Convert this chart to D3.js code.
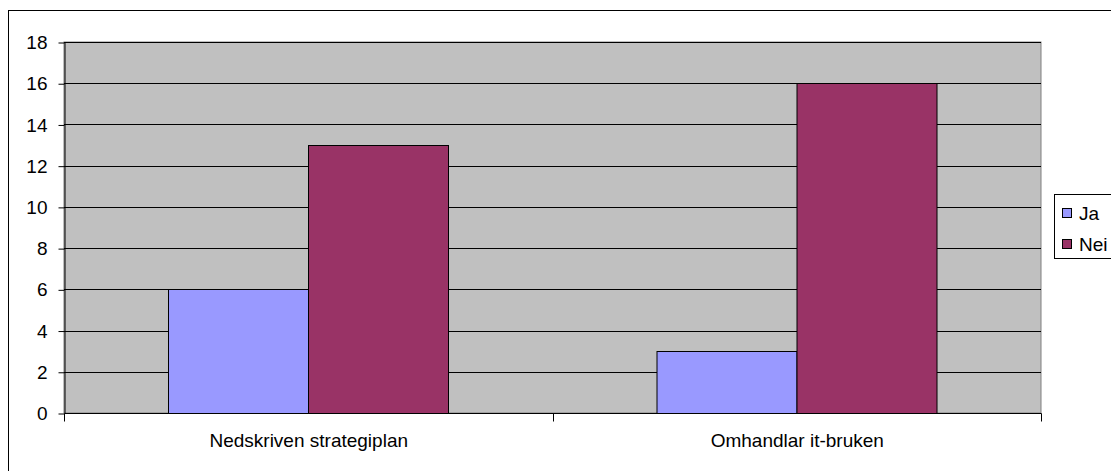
<!DOCTYPE html>
<html>
<head>
<meta charset="utf-8">
<script src="https://cdn.jsdelivr.net/npm/d3@7"></script>
<style>
  html, body { margin: 0; padding: 0; background: #fff; }
  svg { display: block; }
  text { font-family: "Liberation Sans", Arial, sans-serif; fill: #000; }
</style>
</head>
<body>
<svg id="chart" width="1111" height="471"></svg>
<script>
// Survey answers per question
const categories = ["Nedskriven strategiplan", "Omhandlar it-bruken"];
const seriesNames = ["Ja", "Nei"];
const jaValues = [6, 3];
const neiValues = [13, 16];
const yTicks = [0, 2, 4, 6, 8, 10, 12, 14, 16, 18];
const colors = ["#9999ff", "#993366"];

const svg = d3.select("#chart");
const plot = { left: 64, top: 42, right: 1041, bottom: 413 };
const fontSize = "19px";

// Outer chart frame
svg.append("rect")
  .attr("x", 8.5).attr("y", 10.5)
  .attr("width", 1120).attr("height", 480)
  .attr("fill", "#fff").attr("stroke", "#000").attr("stroke-width", 1);

const x0 = d3.scaleBand().domain(categories)
  .range([plot.left, plot.right]).paddingInner(0).paddingOuter(0);
const x1 = d3.scaleBand().domain(seriesNames)
  .range([0, x0.bandwidth()]).paddingInner(0).paddingOuter(0.7446);
const y = d3.scaleLinear().domain([0, 18]).range([plot.bottom, plot.top]);

// Plot background
svg.append("rect")
  .attr("x", plot.left).attr("y", plot.top)
  .attr("width", plot.right - plot.left).attr("height", plot.bottom - plot.top)
  .attr("fill", "#c0c0c0").attr("stroke", "#808080").attr("stroke-width", 1);

// Horizontal gridlines
svg.append("g").selectAll("line").data(yTicks.filter(d => d > 0)).join("line")
  .attr("x1", plot.left).attr("x2", plot.right)
  .attr("y1", d => Math.round(y(d)) + 0.5).attr("y2", d => Math.round(y(d)) + 0.5)
  .attr("stroke", "#000").attr("stroke-width", 1);

// Bars
const rows = categories.map((c, i) => ({ cat: c, vals: [jaValues[i], neiValues[i]] }));
svg.append("g").selectAll("g").data(rows).join("g")
  .attr("transform", d => `translate(${x0(d.cat)},0)`)
  .selectAll("rect").data(d => d.vals.map((v, j) => ({ key: seriesNames[j], v, j })))
  .join("rect")
  .attr("x", d => Math.round(x1(d.key)) + 0.5)
  .attr("y", d => Math.round(y(d.v)) + 0.5)
  .attr("width", x1.bandwidth())
  .attr("height", d => Math.round(y(0)) - Math.round(y(d.v)))
  .attr("fill", d => colors[d.j])
  .attr("stroke", "#000").attr("stroke-width", 1);

// Y axis
const yAxis = svg.append("g")
  .attr("transform", `translate(${plot.left + 0.5},0.5)`)
  .call(d3.axisLeft(y).tickValues(yTicks).tickSize(6).tickPadding(11).tickSizeOuter(0));
yAxis.select(".domain").attr("stroke", "#000");
yAxis.selectAll(".tick line").attr("stroke", "#000");
yAxis.selectAll("text").style("font-size", fontSize).attr("font-family", null);

// X axis with category separator ticks
const xAxis = svg.append("g").attr("transform", `translate(0.5,${plot.bottom + 0.5})`);
xAxis.append("line")
  .attr("x1", plot.left).attr("x2", plot.right)
  .attr("stroke", "#000");
const edges = [plot.left, ...categories.map(c => x0(c) + x0.bandwidth())];
xAxis.selectAll("line.sep").data(edges).join("line").attr("class", "sep")
  .attr("x1", d => Math.round(d)).attr("x2", d => Math.round(d))
  .attr("y1", 0).attr("y2", 8).attr("stroke", "#000");
xAxis.selectAll("text").data(categories).join("text")
  .attr("x", d => x0(d) + x0.bandwidth() / 2)
  .attr("y", 33)
  .attr("text-anchor", "middle")
  .style("font-size", fontSize)
  .text(d => d);

// Legend
const legend = svg.append("g");
legend.append("rect")
  .attr("x", 1054.5).attr("y", 194.5).attr("width", 80).attr("height", 64)
  .attr("fill", "#fff").attr("stroke", "#000");
const items = legend.selectAll("g").data(seriesNames).join("g")
  .attr("transform", (d, i) => `translate(1062,${208 + i * 31})`);
items.append("rect")
  .attr("x", 0.5).attr("y", 0.5).attr("width", 9).attr("height", 9)
  .attr("fill", (d, i) => colors[i]).attr("stroke", "#000");
items.append("text")
  .attr("x", 17).attr("y", 12)
  .style("font-size", fontSize)
  .text(d => d);
</script>
</body>
</html>
